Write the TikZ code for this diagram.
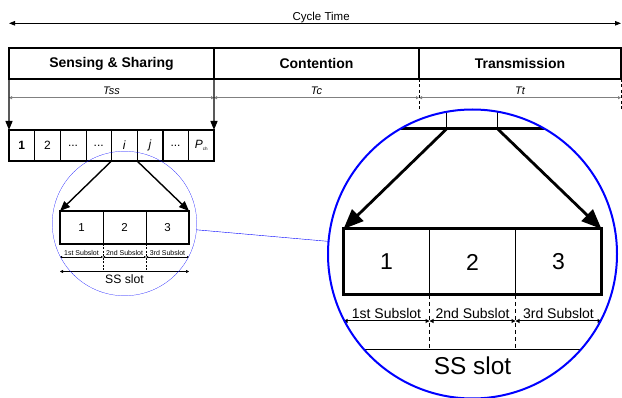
\documentclass[tikz,border=0pt]{standalone}
\usepackage{fontspec}
\setmainfont{Liberation Sans}
\usetikzlibrary{arrows.meta,spy}
\begin{document}
\begin{tikzpicture}[x=1pt,y=-1pt,
  phase/.style={draw, line width=1.3pt, minimum height=31pt, inner sep=0pt, outer sep=0pt, font=\bfseries\fontsize{14}{16}\selectfont},
  tlabel/.style={inner sep=0pt, font=\itshape\fontsize{11}{13}\selectfont},
  dimline/.style={draw=black!50, line width=0.8pt, {Triangle[length=3pt,width=3pt]}-{Triangle[length=3pt,width=3pt]}},
  cyclearrow/.style={draw=black, line width=0.8pt, {Triangle[length=6pt,width=4.5pt]}-{Triangle[length=6pt,width=4.5pt]}},
  cyclelabel/.style={inner sep=0pt, font=\fontsize{11.5}{13}\selectfont},
  downarrow/.style={draw=black, line width=1.3pt, -{Triangle[length=9pt,width=7pt]}},
  dashv/.style={draw=black, line width=0.6pt, dash pattern=on 3pt off 2.5pt},
  cell/.style={draw, line width=0.5pt, minimum width=25.625pt, minimum height=31pt, inner sep=0pt, outer sep=0pt, font=\fontsize{12}{14}\selectfont},
  frame/.style={draw=black, line width=1.5pt},
  sub/.style={draw, line width=0.5pt, minimum width=43pt, minimum height=33pt, inner sep=0pt, outer sep=0pt, font=\fontsize{11.5}{13}\selectfont},
  bigarrow/.style={draw=black, line width=1.4pt, -{Triangle[length=10pt,width=8pt]}},
  subdash/.style={draw=black, line width=0.5pt, dash pattern=on 2pt off 1.5pt},
  sublabel/.style={inner sep=0pt, font=\fontsize{7}{8}\selectfont},
  subdim/.style={draw=black, line width=0.5pt, {Triangle[length=2pt,width=2pt]}-{Triangle[length=2pt,width=2pt]}},
  ssdim/.style={draw=black, line width=0.5pt, {Triangle[length=3pt,width=3pt]}-{Triangle[length=3pt,width=3pt]}},
  sslabel/.style={inner sep=0pt, font=\fontsize{12.2}{14}\selectfont}
]
\useasboundingbox (0,0) rectangle (622,398);
\begin{scope}[spy using outlines={circle, draw=blue, magnification=2, size=289pt, connect spies},
  spy connection path={\draw[blue, line width=1.3pt] (tikzspyonnode) -- (tikzspyinnode);}]
% cycle time
\coordinate (cyL) at (9,23.3);
\coordinate (cyR) at (621,23.3);
\draw[cyclearrow] (cyL) -- node[pos=0.51, above=0pt, cyclelabel] (cyt) {Cycle Time} (cyR);
% phases
\node[phase, minimum width=205pt] (ss) at (111.5,63.5) {Sensing \& Sharing};
\node[phase, minimum width=205pt] (con) at (316.5,63.5) {Contention};
\node[phase, minimum width=202pt] (tr) at (520,63.5) {Transmission};
\node[tlabel] (tss) at (111.5,90.5) {Tss};
\node[tlabel] (tc) at (316.5,90.5) {Tc};
\node[tlabel] (tt) at (520,90.5) {Tt};
\coordinate (d0) at (9,97.7);
\coordinate (d1) at (214,97.7);
\coordinate (d2) at (419,97.7);
\coordinate (d3) at (621,97.7);
\draw[dimline] (d0) -- (d1);
\draw[dimline] (d1) -- (d2);
\draw[dimline] (d2) -- (d3);
\coordinate (k1) at (419,110);
\coordinate (k2) at (621,110);
\draw[dashv] (con.south east) -- (k1);
\draw[dashv] (tr.south east) -- (k2);
% slot row
\node[cell] (c1) at (21.81,145.5) {\bfseries 1};
\node[cell] (c2) at (47.44,145.5) {2};
\node[cell] (c3) at (73.06,145.5) {...};
\node[cell] (c4) at (98.69,145.5) {...};
\node[cell] (c5) at (124.31,145.5) {\itshape i};
\node[cell] (c6) at (149.94,145.5) {\itshape j};
\node[cell] (c7) at (175.56,145.5) {...};
\node[cell] (c8) at (201.19,145.5) {\itshape P\raisebox{-2pt}{\upshape\fontsize{4.5}{5}\selectfont ch}};
\draw[frame] (c1.north west) rectangle (c8.south east);
\draw[downarrow] (ss.south west) -- (c1.north west);
\draw[downarrow] (ss.south east) -- (c8.north east);
% SS slot
\node[sub] (b1) at (81.5,227.5) {1};
\node[sub] (b2) at (124.5,227.5) {2};
\node[sub] (b3) at (167.5,227.5) {3};
\draw[frame] (b1.north west) rectangle (b3.south east);
\draw[bigarrow] (c5.south west) -- (b1.north west);
\draw[bigarrow] (c5.south east) -- (b3.north east);
\coordinate (e1) at (103,270.5);
\coordinate (e2) at (146,270.5);
\draw[subdash] (b1.south east) -- (e1);
\draw[subdash] (b2.south east) -- (e2);
\node[sublabel] (s1) at (81.5,253) {1st Subslot};
\node[sublabel] (s2) at (124.5,253) {2nd Subslot};
\node[sublabel] (s3) at (167.5,253) {3rd Subslot};
\coordinate (g0) at (60,257);
\coordinate (g1) at (103,257);
\coordinate (g2) at (146,257);
\coordinate (g3) at (189,257);
\draw[subdim] (g0) -- (g1);
\draw[subdim] (g1) -- (g2);
\draw[subdim] (g2) -- (g3);
\coordinate (h0) at (60,271.5);
\coordinate (h1) at (189,271.5);
\draw[ssdim] (h0) -- (h1);
\node[sslabel] (sst) at (124.5,279.5) {SS slot};
\coordinate (spyc) at (124.5,223.5);
\coordinate (bigc) at (472.5,254);
\spy[line width=2.4pt] on (spyc) in node[line width=2pt] at (bigc);
\end{scope}
\end{tikzpicture}
\end{document}
